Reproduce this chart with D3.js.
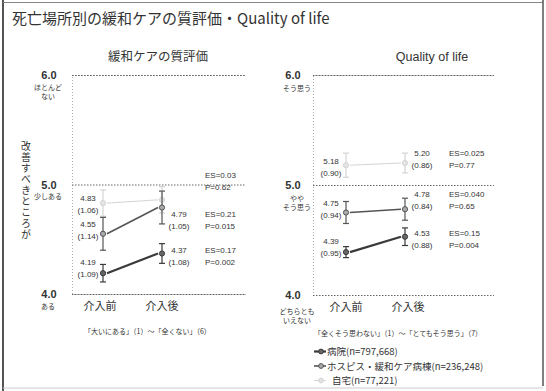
<!DOCTYPE html>
<html>
<head>
<meta charset="utf-8">
<script src="https://cdn.jsdelivr.net/npm/d3@7"></script>
<style>
  html, body { margin: 0; padding: 0; background: #fff; }
  svg { display: block; }
  text { font-family: "Liberation Sans", "Noto Sans CJK JP", sans-serif; fill: #333; }
  .jp { font-family: "Noto Sans CJK JP", sans-serif; }
  .vertical { writing-mode: vertical-rl; letter-spacing: 1px; }
</style>
</head>
<body>
<svg id="chart" width="546" height="391"></svg>
<script>
// ---- data ----
const phases = ["介入前", "介入後"];
const seriesNames = ["病院", "ホスピス・緩和ケア病棟", "自宅"];
const seriesN = ["797,668", "236,248", "77,221"];

// 緩和ケアの質評価 (mean, SD, CI half width, ES, P)
const careMean = [[4.19, 4.37], [4.55, 4.79], [4.83, 4.86]];
const careSD   = [["1.09", "1.08"], ["1.14", "1.05"], ["1.06", "1.03"]];
const careCI   = [[0.08, 0.09], [0.15, 0.15], [0.12, 0.12]];
const careES   = ["0.17", "0.21", "0.03"];
const careP    = ["0.002", "0.015", "0.62"];

// Quality of life
const qolMean = [[4.39, 4.53], [4.75, 4.78], [5.18, 5.20]];
const qolSD   = [["0.95", "0.88"], ["0.94", "0.84"], ["0.90", "0.86"]];
const qolCI   = [[0.05, 0.08], [0.10, 0.10], [0.11, 0.09]];
const qolES   = ["0.15", "0.040", "0.025"];
const qolP    = ["0.004", "0.65", "0.77"];

const yTicks = [4, 5, 6];
const careTickNotes = [["ある"], ["少しある"], ["ほとんど", "ない"]];
const qolTickNotes = [["どちらとも", "いえない"], ["やや", "そう思う"], ["そう思う"]];

const careNote = "「大いにある」（1）～「全くない」（6）";
const qolNote = "「全くそう思わない」（1）～「とてもそう思う」（7）";
const careAxisTitle = "改善すべきところが";

// ---- styling per series ----
const lineColor = ["#3a3a3a", "#555", "#d4d4d4"];
const lineWidth = [2.2, 1.6, 1];
const markFill = ["#666", "#aaa", "#e4e4e4"];
const textColor = ["#333", "#333", "#cfcfcf"];

const svg = d3.select("#chart");

// frame
svg.append("line").attr("x1", 3).attr("x2", 3).attr("y1", 0).attr("y2", 391)
  .attr("stroke", "#555").attr("stroke-width", 2);
svg.append("line").attr("x1", 3).attr("x2", 543).attr("y1", 2.5).attr("y2", 2.5)
  .attr("stroke", "#888").attr("stroke-width", 1);
svg.append("line").attr("x1", 543).attr("x2", 543).attr("y1", 0).attr("y2", 386)
  .attr("stroke", "#555").attr("stroke-width", 1.5);
svg.append("line").attr("x1", 3).attr("x2", 543).attr("y1", 388).attr("y2", 388)
  .attr("stroke", "#ccc").attr("stroke-width", 1);

svg.append("text").attr("class", "jp")
  .attr("x", 12).attr("y", 24)
  .attr("font-size", 15).attr("fill", "#222")
  .text("死亡場所別の緩和ケアの質評価・Quality of life");

function drawPanel(cfg) {
  const g = svg.append("g");
  const y = d3.scaleLinear().domain([4, 6]).range([cfg.yBottom, cfg.yTop]);
  const x = d3.scalePoint().domain(phases).range(cfg.xRange);

  // panel title
  g.append("text").attr("class", cfg.titleClass)
    .attr("x", cfg.titleX).attr("y", 61)
    .attr("text-anchor", "middle").attr("font-size", 12.5).attr("fill", "#222")
    .text(cfg.title);

  // dotted gridlines at the tick values
  const grid = g.append("g")
    .attr("transform", `translate(${cfg.x0},0)`)
    .call(d3.axisLeft(y).tickValues(yTicks).tickSize(-(cfg.x1 - cfg.x0)).tickFormat(""));
  grid.select(".domain")
    .attr("stroke", "#aaa").attr("stroke-dasharray", "1,2");
  grid.selectAll(".tick line")
    .attr("stroke", "#666").attr("stroke-dasharray", "1.5,1.5").attr("stroke-width", 1);

  // tick labels and their verbal notes
  yTicks.forEach((t, i) => {
    g.append("text")
      .attr("x", cfg.tickX).attr("y", y(t) + 4)
      .attr("text-anchor", "middle").attr("font-size", 11).attr("font-weight", "bold")
      .attr("fill", "#333")
      .text(t.toFixed(1));
    cfg.tickNotes[i].forEach((s, k) => {
      g.append("text").attr("class", "jp")
        .attr("x", cfg.noteX).attr("y", y(t) + cfg.noteDy[i] + k * 8.5)
        .attr("text-anchor", "middle").attr("font-size", 7).attr("fill", "#444")
        .text(s);
    });
  });

  // category labels
  phases.forEach((p, i) => {
    g.append("text").attr("class", "jp")
      .attr("x", x(p) + cfg.phaseDx[i]).attr("y", cfg.yBottom + 16)
      .attr("text-anchor", "middle").attr("font-size", 11).attr("fill", "#222")
      .text(p);
  });

  // scale note under the axis
  g.append("text").attr("class", "jp")
    .attr("x", cfg.noteTextX).attr("y", cfg.noteTextY)
    .attr("text-anchor", "start").attr("font-size", 7).attr("fill", "#555")
    .text(cfg.scaleNote);

  // series: draw faint home first so others sit on top
  [2, 1, 0].forEach(s => {
    const pts = phases.map((p, i) => ({ p, i, m: cfg.mean[s][i], ci: cfg.ci[s][i], sd: cfg.sd[s][i] }));
    const sg = g.append("g");

    // error bars
    pts.forEach(d => {
      const xx = x(d.p);
      sg.append("line").attr("x1", xx).attr("x2", xx)
        .attr("y1", y(d.m + d.ci)).attr("y2", y(d.m - d.ci))
        .attr("stroke", lineColor[s]).attr("stroke-width", 1.2);
      [d.m + d.ci, d.m - d.ci].forEach(v => {
        sg.append("line").attr("x1", xx - 3).attr("x2", xx + 3)
          .attr("y1", y(v)).attr("y2", y(v))
          .attr("stroke", lineColor[s]).attr("stroke-width", 1.2);
      });
    });

    // connecting line
    sg.append("path")
      .datum(pts)
      .attr("fill", "none")
      .attr("stroke", lineColor[s]).attr("stroke-width", lineWidth[s])
      .attr("d", d3.line().x(d => x(d.p) + (d.i === 0 ? 4 : -4)).y(d => y(d.m)));

    // markers
    sg.selectAll("circle").data(pts).join("circle")
      .attr("cx", d => x(d.p)).attr("cy", d => y(d.m)).attr("r", 2.6)
      .attr("fill", markFill[s]).attr("stroke", lineColor[s]).attr("stroke-width", 1);

    // value labels
    pts.forEach(d => {
      if (cfg.skipLabel && cfg.skipLabel[s] && cfg.skipLabel[s][d.i]) return;
      const lx = d.i === 0 ? x(d.p) - 15 : x(d.p) + 17;
      const ly = y(d.m) + (d.i === 0 ? cfg.beforeDy[s] : cfg.afterDy[s]);
      sg.append("text").attr("x", lx).attr("y", ly)
        .attr("text-anchor", "middle").attr("font-size", 8).attr("fill", textColor[s])
        .text(d.m.toFixed(2));
      sg.append("text").attr("x", lx).attr("y", ly + 12)
        .attr("text-anchor", "middle").attr("font-size", 8).attr("fill", textColor[s])
        .text(`(${d.sd})`);
    });

    // effect size / p value
    const ey = y(cfg.mean[s][1]) + cfg.afterDy[s];
    sg.append("text").attr("x", cfg.esX).attr("y", ey)
      .attr("font-size", 8).attr("fill", textColor[s])
      .text(`ES=${cfg.es[s]}`);
    sg.append("text").attr("x", cfg.esX).attr("y", ey + 12)
      .attr("font-size", 8).attr("fill", textColor[s])
      .text(`P=${cfg.p[s]}`);
  });

  return g;
}

// left panel: quality of care
drawPanel({
  title: "緩和ケアの質評価", titleClass: "jp", titleX: 158,
  x0: 72, x1: 246, yTop: 75, yBottom: 294, xRange: [103, 162],
  tickX: 49, noteX: 48, noteDy: [15, 14, 15],
  tickNotes: careTickNotes, phaseDx: [-3, 0],
  scaleNote: careNote, noteTextX: 84, noteTextY: 334,
  mean: careMean, sd: careSD, ci: careCI, es: careES, p: careP,
  beforeDy: [-8, -7, -2], afterDy: [0, 10, -22],
  esX: 205,
  skipLabel: [null, null, [false, true]]
});

// vertical axis caption
svg.append("text").attr("class", "jp vertical")
  .attr("x", 26).attr("y", 141)
  .attr("font-size", 10).attr("fill", "#222")
  .text(careAxisTitle);

// right panel: quality of life
drawPanel({
  title: "Quality of life", titleClass: "", titleX: 432,
  x0: 313, x1: 494, yTop: 75, yBottom: 295, xRange: [346, 405],
  tickX: 293, noteX: 297, noteDy: [19, 16, 16],
  tickNotes: qolTickNotes, phaseDx: [0, 3],
  scaleNote: qolNote, noteTextX: 314, noteTextY: 336,
  mean: qolMean, sd: qolSD, ci: qolCI, es: qolES, p: qolP,
  beforeDy: [-8, -7, -1], afterDy: [-1, -12, -7],
  esX: 449
});

// legend
const legend = svg.append("g").attr("transform", "translate(314,355)");
seriesNames.forEach((name, s) => {
  const row = legend.append("g").attr("transform", `translate(0,${s * 14.5})`);
  row.append("line").attr("x1", 0).attr("x2", 12).attr("y1", -3.5).attr("y2", -3.5)
    .attr("stroke", lineColor[s]).attr("stroke-width", lineWidth[s]);
  row.append("circle").attr("cx", 7).attr("cy", -3.5).attr("r", 2.4)
    .attr("fill", markFill[s]).attr("stroke", lineColor[s]).attr("stroke-width", 1);
  row.append("text").attr("class", "jp")
    .attr("x", s === 2 ? 18 : 13).attr("y", 0)
    .attr("font-size", 9.5).attr("fill", "#222")
    .text(`${name}(n=${seriesN[s]})`);
});
</script>
</body>
</html>
